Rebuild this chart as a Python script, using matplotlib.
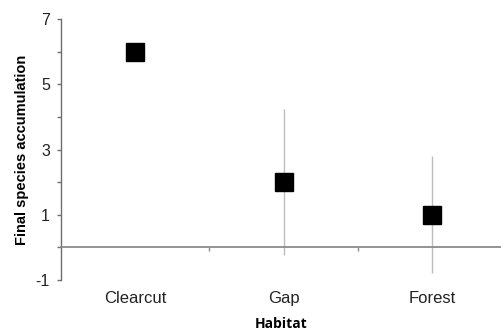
import matplotlib
matplotlib.use("Agg")
import matplotlib.pyplot as plt
import numpy as np

# data
habitats = ["Clearcut", "Gap", "Forest"]
accumulation = [6.0, 2.0, 1.0]
errors = [0.0, 2.24, 1.8]

plt.rcParams['font.family'] = ['Liberation Sans', 'DejaVu Sans']
plt.rcParams['axes.unicode_minus'] = False

fig = plt.figure(figsize=(5.01, 3.33), dpi=100)
ax = fig.add_axes([61 / 501, 53 / 333, 440 / 501, 261 / 333])

x = np.arange(len(habitats))
ax.errorbar(x, accumulation, yerr=errors, fmt='none', ecolor='#bdbdbd',
            elinewidth=1.0, capsize=0, zorder=2)
ax.plot(x, accumulation, 's', color='black', markersize=13.5, zorder=3)

ax.set_xlim(-0.5, 2.465)
ax.set_ylim(-1, 7)

# y axis
ax.spines['top'].set_visible(False)
ax.spines['right'].set_visible(False)
ax.spines['left'].set_color('#6e6e6e')
ax.spines['left'].set_linewidth(1.0)
ax.set_yticks([-1, 1, 3, 5, 7])
ax.set_yticks([0, 2, 4, 6], minor=True)
ax.tick_params(axis='y', which='both', direction='out', length=3,
               width=1.0, color='#6e6e6e', labelsize=11.5, pad=5,
               labelcolor='#222222')
ax.set_ylabel("Final species accumulation", fontsize=10.5, fontweight='bold',
              labelpad=5)

# category axis line crosses at zero
ax.spines['bottom'].set_position(('data', 0))
ax.spines['bottom'].set_color('#8a8a8a')
ax.spines['bottom'].set_linewidth(1.3)
ax.set_xticks([0.5, 1.5])
ax.set_xticklabels([])
ax.tick_params(axis='x', direction='out', length=3, width=1.0,
               color='#8a8a8a')

# category labels at the bottom
sec = ax.secondary_xaxis('bottom')
sec.spines['bottom'].set_visible(False)
sec.set_xticks(x)
sec.set_xticklabels(habitats)
sec.tick_params(axis='x', length=0, labelsize=12, pad=8,
                labelcolor='#222222')
sec.set_xlabel("Habitat", fontsize=10, fontweight='bold',
               family=['Open Sans', 'DejaVu Sans'], labelpad=8)

fig.savefig("out.png", dpi=100)
